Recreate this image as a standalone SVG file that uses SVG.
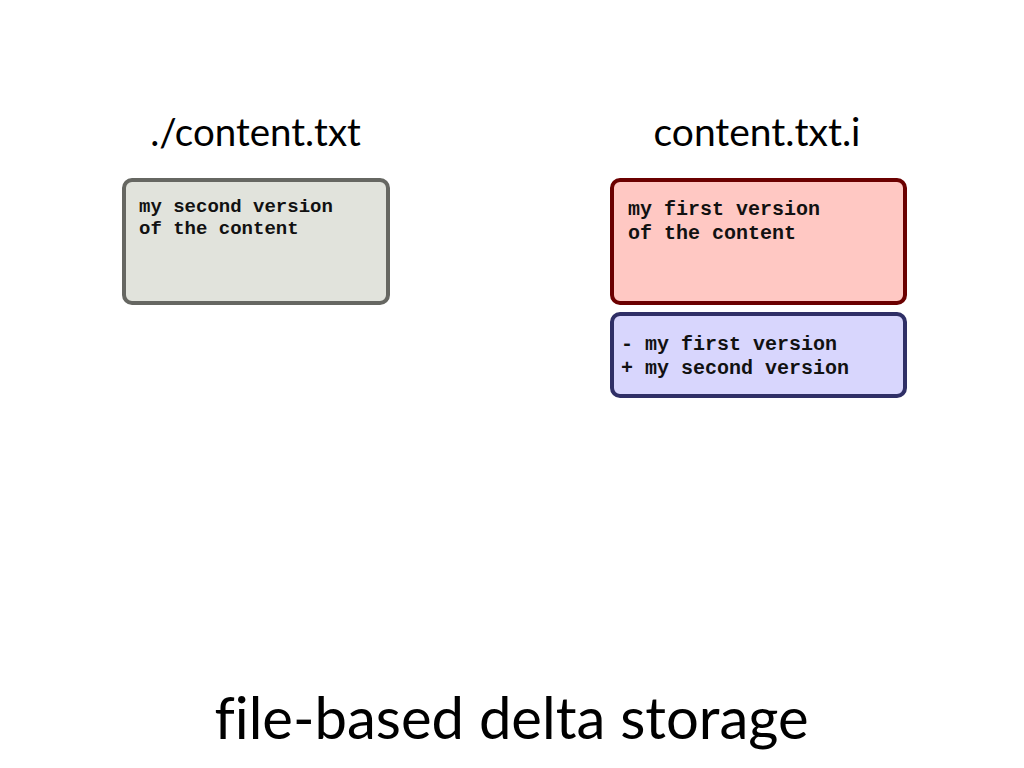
<svg xmlns="http://www.w3.org/2000/svg" width="1024" height="768" viewBox="0 0 1024 768">
<style>
.title{font-family:"Lato","Open Sans","Liberation Sans",sans-serif;fill:#000;text-anchor:middle;font-variant-ligatures:none}
.mono{font-family:"Liberation Mono","DejaVu Sans Mono",monospace;font-weight:bold;fill:#111}
.box{stroke-width:4}
</style>
<rect width="1024" height="768" fill="#fff"/>
<g id="label-working">
<text class="title" x="255.5" y="146" font-size="38.5">./content.txt</text>
</g>
<g id="label-index">
<text class="title" x="757" y="146" font-size="39">content.txt.i</text>
</g>
<g id="node-working">
<rect class="box" x="124" y="180" width="264" height="123" rx="8" fill="#e1e3dc" stroke="#666762"/>
<text class="mono" x="139" y="212" font-size="19">my second version</text>
<text class="mono" x="139" y="234" font-size="19">of the content</text>
</g>
<g id="node-first">
<rect class="box" x="612" y="180" width="293" height="123" rx="8" fill="#ffc8c3" stroke="#6b0000"/>
<text class="mono" x="628" y="215" font-size="20">my first version</text>
<text class="mono" x="628" y="239" font-size="20">of the content</text>
</g>
<g id="node-delta">
<rect class="box" x="612" y="314" width="293" height="82" rx="8" fill="#d8d6fd" stroke="#2f2f66"/>
<text class="mono" x="621" y="350" font-size="20">- my first version</text>
<text class="mono" x="621" y="374" font-size="20">+ my second version</text>
</g>
<g id="connectors"></g>
<g id="caption">
<text class="title" x="511.5" y="739" font-size="58">file-based delta storage</text>
</g>
</svg>
